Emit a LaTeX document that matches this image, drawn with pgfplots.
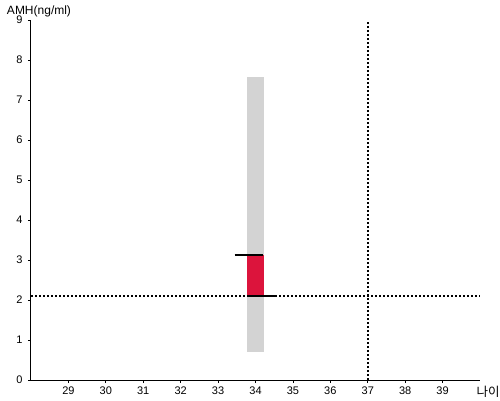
\documentclass[border=0pt]{standalone}
\usepackage{fontspec}
\setmainfont{Liberation Sans}
\newfontfamily\cjk{Noto Sans CJK KR}
\usepackage{pgfplots}
\pgfplotsset{compat=1.18}
\definecolor{barred}{HTML}{DC143C}
\definecolor{bargray}{HTML}{D3D3D3}
\begin{document}
\begin{tikzpicture}
\begin{axis}[
  scale only axis,
  width=449pt, height=360pt,
  xmin=28, xmax=40, ymin=0, ymax=9,
  axis x line*=bottom, axis y line*=left,
  axis line style={line width=1pt, -},
  xtick={29,...,39}, ytick={0,...,9},
  tick align=outside, major tick length=3pt,
  tick style={black, line width=0.8pt},
  /pgf/number format/assume math mode=true,
  ticklabel style={font=\fontsize{11}{11}\selectfont},
  yticklabel style={xshift=-2pt},
  xlabel={\cjk 나이},
  ylabel={AMH(ng/ml)},
  every axis x label/.style={at={(rel axis cs:1,0)}, anchor=base, xshift=8pt, yshift=-16pt, font=\fontsize{12.5}{12.5}\selectfont},
  every axis y label/.style={at={(rel axis cs:0,1)}, anchor=base, xshift=8pt, yshift=6pt, font=\fontsize{12}{12}\selectfont},
  clip=false,
]
\coordinate (o) at (rel axis cs:0,0);
\addplot[fill=bargray, draw=none] coordinates {(33.785,0.7)(34.215,0.7)(34.215,7.575)(33.785,7.575)} -- cycle;
\addplot[fill=barred, draw=none] coordinates {(33.785,2.1)(34.215,2.1)(34.215,3.13)(33.785,3.13)} -- cycle;
\addplot[black, line width=2pt] coordinates {(33.44,3.13)(34.21,3.13)};
\addplot[black, line width=2pt] coordinates {(33.78,2.1)(34.56,2.1)};
\addplot[black, line width=2pt, dash pattern=on 2pt off 2pt] coordinates {(28,2.1)(40,2.1)};
\addplot[black, line width=2pt, dash pattern=on 2pt off 2pt] coordinates {(37,0)(37,9)};
\end{axis}
\pgfresetboundingbox
\path (o) ++(-31pt,-20pt) rectangle ++(500pt,400pt);
\end{tikzpicture}
\end{document}
